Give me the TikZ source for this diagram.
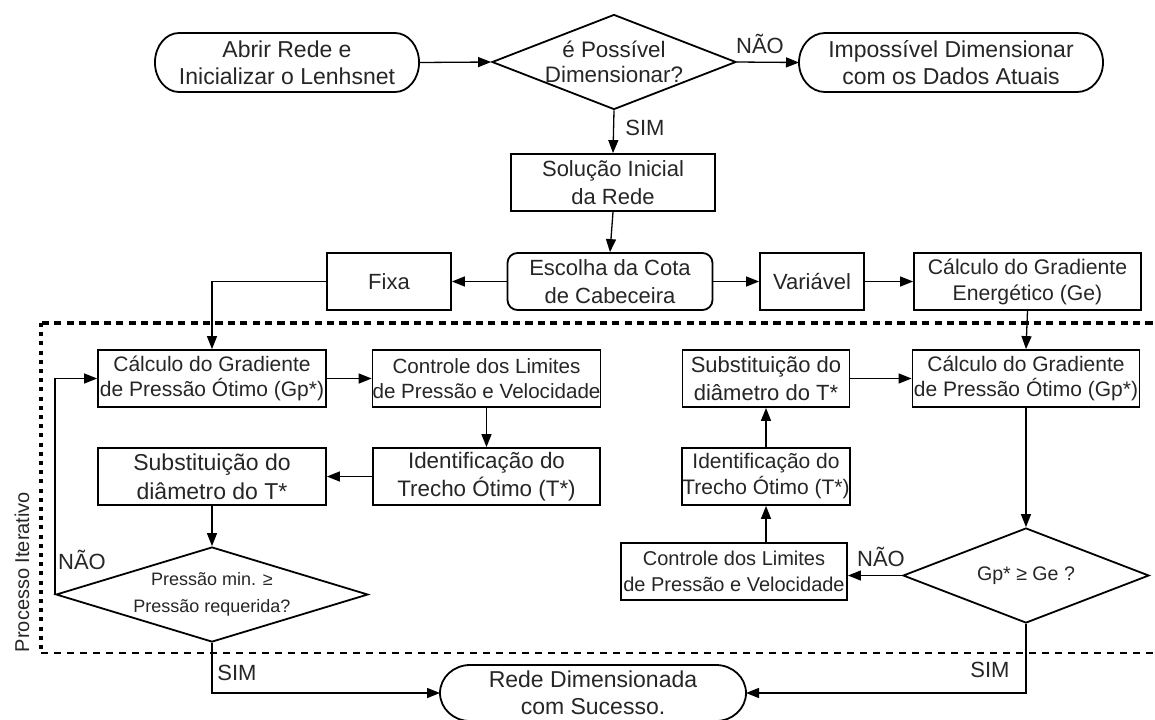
\documentclass[tikz,border=0pt]{standalone}
\usepackage{fontspec}
\setmainfont{Liberation Sans}
\usetikzlibrary{shapes.geometric,arrows.meta}
\newcommand{\fsz}[2]{\fontsize{#1}{#2}\selectfont}
\newcommand{\termline}[3]{\draw[line width=0.9pt] ([xshift=#2]#1.north west) -- ([xshift=-#2]#1.north east) arc[start angle=90,end angle=-90,x radius=#2,y radius=#3] -- ([xshift=#2]#1.south west) arc[start angle=270,end angle=90,x radius=#2,y radius=#3] -- cycle;}
\tikzset{
  box/.style={draw, line width=0.9pt, rectangle, align=center, inner sep=0pt, minimum height=28.5pt, text=black!85},
  term/.style={rectangle, align=center, inner sep=0pt, outer ysep=0pt, minimum height=29.5pt, font=\fsz{11.5}{13.5}, text=black!85},
  dia/.style={draw, line width=0.9pt, diamond, inner sep=0pt, minimum height=47.5pt},
  arr/.style={line width=0.65pt, -{Triangle[length=6.5pt,width=5pt]}},
  lbl/.style={inner sep=0pt, font=\fsz{11}{13}, text=black!85},
  dtop/.style={line width=2pt, dash pattern=on 3.6pt off 2.6pt},
  dleft/.style={line width=2pt, dash pattern=on 2pt off 2.6pt},
  dbot/.style={line width=1.4pt, dash pattern=on 3.6pt off 2.9pt},
}
\begin{document}
\begin{tikzpicture}[x=0.5pt,y=-0.5pt]
\clip (0,0) rectangle (1155,719);
\fill[white] (0,0) rectangle (1155,719);

% dotted frame
\draw[dtop] (1165,323) -- (41,323);
\draw[dleft] (41,323) -- (41,653);
\draw[dbot] (41,653) -- (1165,653);

% top row
\node[term, minimum width=106.5pt, outer xsep=12pt] (abrir) at (287,62.5) {Abrir Rede e\\Inicializar o Lenhsnet};
\termline{abrir}{12pt}{14.75pt}
\node[dia, minimum width=122pt, label={[font=\fsz{11.2}{12.5}, align=center, text=black!85]center:{é Possível\\Dimensionar?}}] (poss) at (614,62) {};
\node[term, minimum width=126pt, outer xsep=13pt] (imposs) at (951,62.5) {Impossível Dimensionar\\com os Dados Atuais};
\termline{imposs}{13pt}{14.75pt}

\node[box, minimum width=102pt, font=\fsz{11}{14}] (sol) at (613,182.5) {Solução Inicial\\da Rede};
\node[box, rounded corners=5pt, minimum width=102.5pt, font=\fsz{11}{14}] (escolha) at (610,281.5) {Escolha da Cota\\de Cabeceira};
\node[box, minimum width=62pt, font=\fsz{11}{14}] (fixa) at (389,281.5) {Fixa};
\node[box, minimum width=52pt, font=\fsz{11}{14}] (variavel) at (812,281.5) {Variável};
\node[box, minimum width=113.5pt, font=\fsz{10.6}{13}] (ge) at (1027.5,281.5) {Cálculo do Gradiente\\Energético (Ge)};

% left loop
\node[box, minimum width=114pt, font=\fsz{10.5}{12.8}] (calcL) at (212,378.5) {Cálculo do Gradiente\\de Pressão Ótimo (Gp*)};
\node[box, minimum width=113.5pt, font=\fsz{10.3}{12.8}] (contL) at (486.5,378.5) {Controle dos Limites\\de Pressão e Velocidade};
\node[box, minimum width=113.5pt, font=\fsz{11.2}{14}] (identL) at (486.5,476.5) {Identificação do\\Trecho Ótimo (T*)};
\node[box, minimum width=114pt, font=\fsz{11.5}{14.5}] (substL) at (212,476.5) {Substituição do\\diâmetro do T*};
\node[dia, minimum width=156pt, label={[font=\fsz{9}{13.5}, align=center, text=black!85]center:{Pressão min. ≥\\Pressão requerida?}}] (decL) at (212,594.5) {};

% right loop
\node[box, minimum width=113.5pt, font=\fsz{10.5}{12.8}] (calcR) at (1026,378.5) {Cálculo do Gradiente\\de Pressão Ótimo (Gp*)};
\node[box, minimum width=83.5pt, font=\fsz{11}{14}] (substR) at (766,378.5) {Substituição do\\diâmetro do T*};
\node[box, minimum width=83.5pt, font=\fsz{10.5}{13}] (identR) at (766,476.5) {Identificação do\\Trecho Ótimo (T*)};
\node[box, minimum width=113pt, font=\fsz{10}{12.8}] (contR) at (734,571.5) {Controle dos Limites\\de Pressão e Velocidade};
\node[dia, minimum width=123pt, label={[font=\fsz{9.8}{12}, text=black!85]center:{Gp* ≥ Ge ?}}] (decR) at (1026,575.5) {};

% end
\node[term, minimum width=123pt, minimum height=28pt, outer xsep=15pt] (rede) at (593,693) {Rede Dimensionada\\com Sucesso.};
\termline{rede}{15pt}{14pt}

\node[rotate=90, inner sep=0pt, font=\fsz{10}{12}, text=black!85] (proc) at (22,572) {Processo Iterativo};

% connectors
\draw[arr] (abrir.east) -- (poss.west);
\draw[arr] (poss.east) -- (imposs.west);
\draw[arr] (poss.south) -- (sol.north);
\draw[arr] (sol.south) -- (escolha.north);
\draw[arr] (escolha.west) -- (fixa.east);
\draw[arr] (fixa.west) -| (calcL.north);
\draw[arr] (escolha.east) -- (variavel.west);
\draw[arr] (variavel.east) -- (ge.west);
\draw[arr] (ge.south) -- (calcR.north);
\draw[arr] (calcL.east) -- (contL.west);
\draw[arr] (contL.south) -- (identL.north);
\draw[arr] (identL.west) -- (substL.east);
\draw[arr] (substL.south) -- (decL.north);
\draw[arr] (decL.west) |- (calcL.west);
\draw[arr] (decL.south) |- (rede.west);
\draw[arr] (calcR.south) -- (decR.north);
\draw[arr] (decR.west) -- (decR.west -| contR.east);
\draw[arr] (identR.south |- contR.north) -- (identR.south);
\draw[arr] (identR.north) -- (substR.south);
\draw[arr] (substR.east) -- (calcR.west);
\draw[arr] (decR.south) |- (rede.east);

% labels
\node[lbl] (nao1) at (760,44) {NÃO};
\node[lbl] (sim1) at (645,128) {SIM};
\node[lbl] (nao2) at (82,560) {NÃO};
\node[lbl] (sim2) at (237,673) {SIM};
\node[lbl] (nao3) at (881,557) {NÃO};
\node[lbl] (sim3) at (990,670) {SIM};
\end{tikzpicture}
\end{document}
